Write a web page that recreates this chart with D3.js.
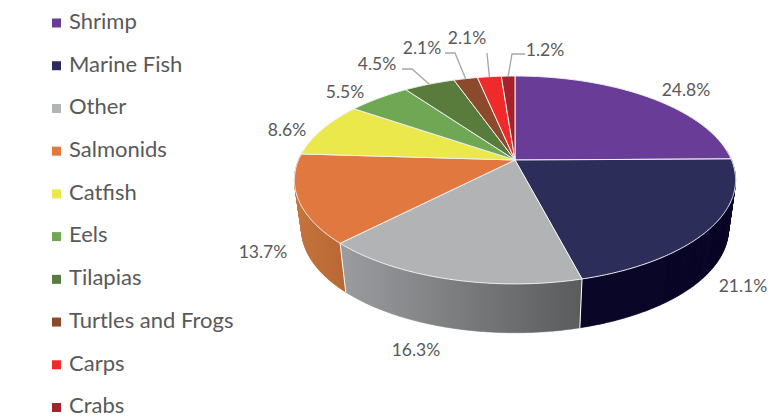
<!DOCTYPE html>
<html>
<head>
<meta charset="utf-8">
<script src="https://cdn.jsdelivr.net/npm/d3@7/dist/d3.min.js"></script>
<style>
html,body{margin:0;padding:0;background:#fff;overflow:hidden}
text{font-family:Lato,"Open Sans","Noto Sans",sans-serif;fill:#595959}
</style>
</head>
<body>
<svg id="chart" width="771" height="418"></svg>
<script>
// Data
const categories = ["Shrimp","Marine Fish","Other","Salmonids","Catfish","Eels","Tilapias","Turtles and Frogs","Carps","Crabs"];
const shares = [24.8,21.1,16.3,13.7,8.6,5.5,4.5,2.1,2.1,1.2];
const shareLabels = ["24.8%","21.1%","16.3%","13.7%","8.6%","5.5%","4.5%","2.1%","2.1%","1.2%"];

// Styles and layout
const topColors = ["#693d97","#2c2d58","#b2b3b5","#e07840","#eae84a","#70a755","#597c3d","#8b4a2c","#ee2a2a","#a6212c"];
const wallColors = ["#3a2060","#0b0628","url(#wallGray)","url(#wallOrange)","#a8a632","#4f7a3a","#3d5a2a","#62331e","#a81c1c","#751820"];
const labelXY = [[686,89],[743,285],[416,349],[263,251],[287,129],[345,91],[377,63],[422,47],[467,37],[545,49]];
const leaderElbows = {6:[[402,69],[412,69]],7:[[445,53],[455,53]],8:[[487,53],[487,53]],9:[[525,54],[512,54]]};
const persp = 0.192;
const topPlane = {cx:515,cy:160,a:216.5,b:100.1};
const basePlane = {cx:515,cy:209,a:209.5,b:100};

const svg = d3.select("#chart");
const defs = svg.append("defs");
function gradient(id,stops){
  const g = defs.append("linearGradient").attr("id",id).attr("gradientUnits","userSpaceOnUse")
    .attr("x1",stops.x1).attr("x2",stops.x2).attr("y1",0).attr("y2",0);
  g.append("stop").attr("offset",0).attr("stop-color",stops.from);
  g.append("stop").attr("offset",1).attr("stop-color",stops.to);
}
gradient("wallGray",{x1:345,x2:582,from:"#9a9b9e",to:"#595b5c"});
gradient("wallOrange",{x1:296,x2:347,from:"#c4743c",to:"#b96733"});

const project = (plane,t)=>{
  const w = 1 + persp*Math.cos(t);
  return [plane.cx + plane.a*Math.sin(t)/w, plane.cy - plane.b*Math.cos(t)/w];
};
const arcAngles = (s,e)=>{
  const n = Math.max(2,Math.ceil((e-s)/0.01));
  return d3.range(n+1).map(i=>s+(e-s)*i/n);
};
const line = d3.line();
const arcs = d3.pie().sort(null).value(d=>d)(shares);

// Side walls: swept step by step so that the silhouette follows the tangent of the two rims
const wallLayer = svg.append("g");
const dividers = [];
arcs.forEach((a,i)=>{
  const s = Math.max(a.startAngle,Math.PI*0.47), e = Math.min(a.endAngle,Math.PI*1.53);
  if(e<=s) return;
  const ang = arcAngles(s,e);
  const d = d3.pairs(ang).map(([t0,t1])=>line([project(topPlane,t0),project(topPlane,t1),project(basePlane,t1),project(basePlane,t0)])+"Z").join("");
  wallLayer.append("path").attr("d",d).attr("fill",wallColors[i])
    .attr("stroke",wallColors[i]).attr("stroke-width",0.5);
  dividers.push(a.startAngle,a.endAngle);
});
new Set(dividers).forEach(t=>{
  if(t<Math.PI*0.6||t>Math.PI*1.45) return;
  wallLayer.append("path").attr("d",line([project(topPlane,t),project(basePlane,t)]))
    .attr("fill","none").attr("stroke","#fff").attr("stroke-width",1);
});

// Top surface
const topLayer = svg.append("g");
arcs.forEach((a,i)=>{
  const pts = [[topPlane.cx,topPlane.cy]].concat(arcAngles(a.startAngle,a.endAngle).map(t=>project(topPlane,t)));
  topLayer.append("path").attr("d",line(pts)+"Z").attr("fill",topColors[i])
    .attr("stroke","#eef0f2").attr("stroke-width",1).attr("stroke-linejoin","round");
});

// Leader lines
Object.keys(leaderElbows).forEach(k=>{
  const a = arcs[k];
  const rim = project(topPlane,(a.startAngle+a.endAngle)/2);
  svg.append("path").attr("d",line(leaderElbows[k].concat([rim])))
    .attr("fill","none").attr("stroke","#a6a6a6").attr("stroke-width",1.3);
});

// Value labels
svg.selectAll("text.val").data(shareLabels).join("text").attr("class","val")
  .attr("x",(d,i)=>labelXY[i][0]).attr("y",(d,i)=>labelXY[i][1])
  .attr("text-anchor","middle").attr("dominant-baseline","central")
  .attr("font-size",17.5).text(d=>d);

// Legend
const legendY = d3.scalePoint().domain(categories).range([23,407.5]);
const legend = svg.selectAll("g.leg").data(categories).join("g").attr("class","leg")
  .attr("transform",d=>`translate(0,${legendY(d)})`);
legend.append("rect").attr("x",52).attr("y",-4.5).attr("width",9).attr("height",9).attr("fill",(d,i)=>topColors[i]);
legend.append("text").attr("x",69).attr("y",5.8).attr("font-size",22).text(d=>d);
</script>
</body>
</html>
